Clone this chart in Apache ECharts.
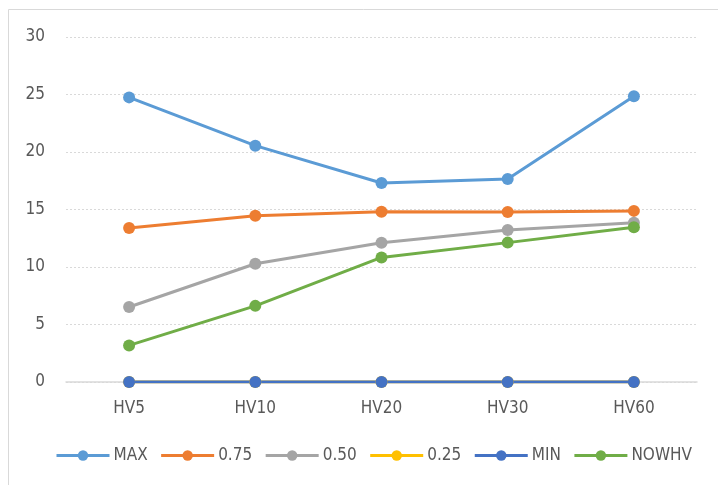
<!DOCTYPE html>
<html><head><meta charset="utf-8">
<script src="https://cdn.jsdelivr.net/npm/echarts@6/dist/echarts.min.js"></script>
<style>html,body{margin:0;padding:0;background:#fff}#c{width:718px;height:485px}</style>
</head><body><div id="c"></div>
<script>
const categories = ['HV5','HV10','HV20','HV30','HV60'];
const seriesNames = ['MAX','0.75','0.50','0.25','MIN','NOWHV'];
const maxVals = [24.75, 20.55, 17.3, 17.65, 24.85];
const q75Vals = [13.4, 14.45, 14.8, 14.78, 14.88];
const q50Vals = [6.52, 10.28, 12.1, 13.22, 13.85];
const q25Vals = [0, 0, 0, 0, 0];
const minVals = [0, 0, 0, 0, 0];
const nowVals = [3.18, 6.62, 10.83, 12.12, 13.45];
const yTicks = [0, 5, 10, 15, 20, 25, 30];
const colors = ['#5B9BD5','#ED7D31','#A5A5A5','#FFC000','#4472C4','#70AD47'];
const dataSets = [maxVals, q75Vals, q50Vals, q25Vals, minVals, nowVals];
const font = '"Liberation Sans Narrow","DejaVu Sans Condensed","Liberation Sans"';
const chart = echarts.init(document.getElementById('c'));
chart.setOption({
  animation: false,
  color: colors,
  graphic: [{type:'rect', shape:{x:8.5,y:9.5,width:740,height:500}, style:{fill:'none', stroke:'#d9d9d9', lineWidth:1}}],
  grid: {left: 66, right: 21, top: 37, bottom: 103},
  legend: {
    left: 55, top: 447, padding: 0, itemWidth: 53, itemHeight: 13, itemGap: 12,
    lineStyle: {width: 3},
    textStyle: {color:'#595959', fontFamily: font, fontSize: 17, padding:[0,0,0,-1]},
    data: seriesNames
  },
  xAxis: {
    type:'category', data: categories, boundaryGap: true,
    axisLine:{lineStyle:{color:'#d9d9d9', width:1.5}}, axisTick:{show:false},
    axisLabel:{color:'#595959', fontFamily:font, fontSize:17, margin:18}
  },
  yAxis: {
    type:'value', min: yTicks[0], max: yTicks[yTicks.length-1], interval: 5,
    axisLine:{show:false}, axisTick:{show:false},
    axisLabel:{color:'#595959', fontFamily:font, fontSize:17, margin:21},
    splitLine:{lineStyle:{color:'#d9d9d9', type:[2,2], width:1}}
  },
  series: seriesNames.map((n,i)=>({
    name:n, type:'line', data:dataSets[i], symbol:'circle', symbolSize:12,
    lineStyle:{width:3}, itemStyle:{color:colors[i]}
  }))
});
</script></body></html>
